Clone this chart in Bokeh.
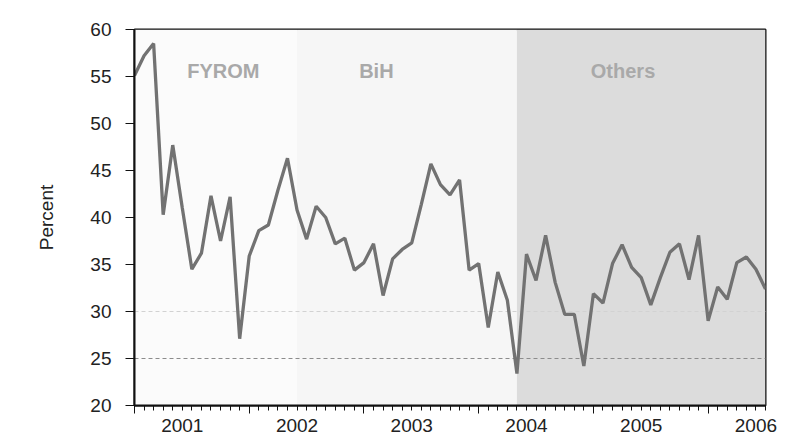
from bokeh.plotting import figure
from bokeh.models import (LinearAxis, FixedTicker, BoxAnnotation, Span, Label,
                          Range1d, CustomLabelingPolicy)
from bokeh.embed import file_html
from bokeh.resources import INLINE

# Monthly observations, Aug 2000 .. Feb 2006 (index 0 = 2000M08)
months = list(range(67))
values = [55.1, 57.2, 58.5, 40.3, 47.7, 41.0, 34.5, 36.2, 42.3, 37.5,
          42.2, 27.1, 35.9, 38.6, 39.2, 42.9, 46.3, 40.8, 37.7, 41.2,
          40.0, 37.2, 37.8, 34.4, 35.2, 37.2, 31.7, 35.6, 36.6, 37.3,
          41.4, 45.7, 43.5, 42.4, 44.0, 34.4, 35.1, 28.3, 34.2, 31.2,
          23.4, 36.1, 33.3, 38.1, 33.1, 29.7, 29.7, 24.2, 31.9, 30.9,
          35.1, 37.1, 34.7, 33.6, 30.7, 33.6, 36.3, 37.2, 33.4, 38.1,
          29.0, 32.6, 31.3, 35.2, 35.8, 34.5, 32.4]

year_labels = ["2001", "2002", "2003", "2004", "2005", "2006"]
year_label_pos = [5, 17, 29, 41, 53, 65]       # January of each year
year_tick_pos = [0, 12, 24, 36, 48, 60]        # every 12 observations
y_ticks = [20, 25, 30, 35, 40, 45, 50, 55, 60]

regions = ["FYROM", "BiH", "Others"]
region_start = [0, 17, 40]
region_end = [17, 40, 66]
region_colors = ["#fbfbfb", "#f6f6f6", "#dcdcdc"]
region_label_x = [9.3, 25.3, 51.1]
region_label_y = 55.6

ref_levels = [30, 25]
ref_colors = ["#d2d2d2", "#8c8c8c"]

FONT = "Liberation Sans"

p = figure(width=786, height=434, output_backend="svg", toolbar_location=None,
           x_range=Range1d(0, 66), y_range=Range1d(20, 60),
           min_border_left=134, min_border_right=21, min_border_top=29,
           min_border_bottom=0, border_fill_color="white",
           background_fill_color="white")
p.grid.visible = False
p.outline_line_color = "#111111"
p.outline_line_width = 2

for s, e, c in zip(region_start, region_end, region_colors):
    p.add_layout(BoxAnnotation(left=s, right=e, fill_color=c, fill_alpha=1.0,
                               line_color=None, level="underlay"))
for lv, c in zip(ref_levels, ref_colors):
    p.add_layout(Span(location=lv, dimension="width", line_color=c,
                      line_dash="4 3", line_width=1, level="underlay"))

p.line(months, values, line_color="#727272", line_width=3.3)

for name, lx in zip(regions, region_label_x):
    p.add_layout(Label(x=lx, y=region_label_y, text=name, text_align="center",
                       text_baseline="middle", text_font_style="bold",
                       text_color="#a9a9a9", text_font_size="20px",
                       text_font=FONT))

# y axis
ya = p.yaxis[0]
ya.ticker = FixedTicker(ticks=y_ticks)
ya.major_tick_in = 0
ya.major_tick_out = 9
ya.minor_tick_line_color = None
ya.axis_line_width = 2
ya.axis_line_color = "#111111"
ya.major_tick_line_color = "#111111"
ya.major_label_text_font = FONT
ya.major_label_text_font_size = "19px"
ya.major_label_text_color = "#222222"
ya.major_label_standoff = 14
ya.axis_label = "Percent"
ya.axis_label_text_font = FONT
ya.axis_label_text_font_size = "19px"
ya.axis_label_text_font_style = "normal"
ya.axis_label_text_color = "#222222"
ya.axis_label_standoff = 30

# x axis: tick marks only (labels filtered out)
xa = p.xaxis[0]
xa.ticker = FixedTicker(ticks=year_tick_pos, minor_ticks=months)
xa.major_tick_in = 0
xa.major_tick_out = 8
xa.minor_tick_in = 0
xa.minor_tick_out = 5
xa.axis_line_width = 2
xa.axis_line_color = "#111111"
xa.major_tick_line_color = "#111111"
xa.minor_tick_line_color = "#111111"
xa.major_label_text_font_size = "1px"
xa.major_label_standoff = 0
xa.major_label_policy = CustomLabelingPolicy(
    code="for (const i of indices) { indices.unset(i) }\nreturn indices")

# x axis: year labels
xl = LinearAxis(ticker=FixedTicker(ticks=year_label_pos, minor_ticks=[]),
                major_label_overrides={k: v for k, v in zip(year_label_pos, year_labels)},
                axis_line_color=None, major_tick_line_color=None,
                minor_tick_line_color=None, major_label_standoff=-5,
                major_label_text_font=FONT, major_label_text_font_size="19px",
                major_label_text_color="#222222")
p.add_layout(xl, "below")

open("out.html", "w").write(file_html(p, INLINE))
